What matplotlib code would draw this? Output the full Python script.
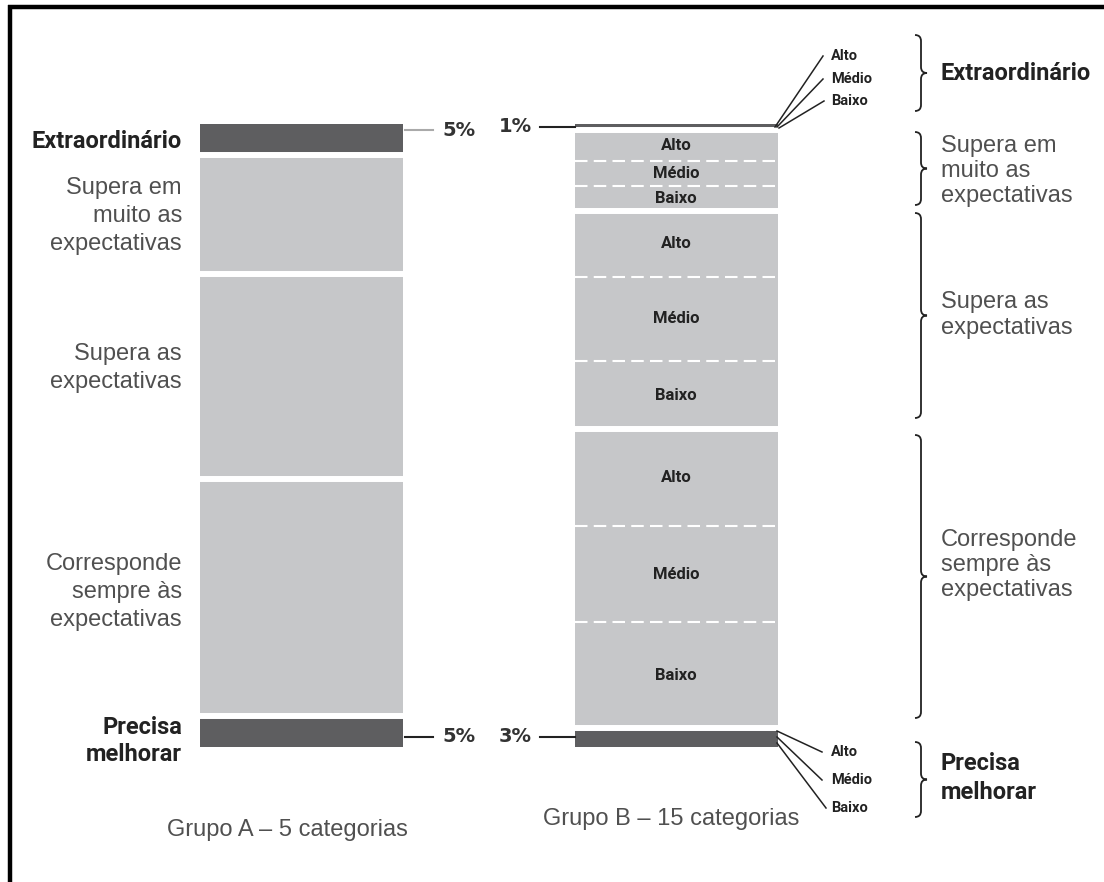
import numpy as np
import matplotlib
matplotlib.use('Agg')
import matplotlib.pyplot as plt
from matplotlib.path import Path
from matplotlib.patches import PathPatch
from matplotlib import font_manager

# categories and shares (%)
categories = ['Extraordinário', 'Supera em\nmuito as\nexpectativas', 'Supera as\nexpectativas',
              'Corresponde\nsempre às\nexpectativas', 'Precisa\nmelhorar']
group_a = [5, 19, 33, 38, 5]
group_b = [1, 13, 35, 48, 3]
# group B: split of the three middle categories into Alto / Médio / Baixo
levels = ['Alto', 'Médio', 'Baixo']
b_sub_supera_muito = [5, 4, 4]
b_sub_supera = [10.5, 13.5, 11]
b_sub_corresponde = [15.5, 15.5, 17]
group_names = ['Grupo A – 5 categorias', 'Grupo B – 15 categorias']

# fonts: condensed bold face if it exists
names = {f.name for f in font_manager.fontManager.ttflist}
if 'Liberation Sans Narrow' in names:
    NARROW, big, mid, small = 'Liberation Sans Narrow', 19, 13.5, 12
else:
    NARROW, big, mid, small = 'Roboto', 17, 12, 10.5
LIGHT = 'Liberation Sans'
dark, light = '#5e5e60', '#c6c7c9'
txt, txt_light = '#222222', '#505050'

W, H = 1104, 882
TOP, BOT = 124, 747
fig = plt.figure(figsize=(W / 100, H / 100), dpi=100)
fig.patch.set_facecolor('white')

# bars axis: y in percent, 0 at the top
ax = fig.add_axes([0, (H - BOT) / H, 1, (BOT - TOP) / H])
ax.set_xlim(0, W)
ax.set_ylim(100, 0)
ax.axis('off')

# overlay in pixel units for the annotations
ov = fig.add_axes([0, 0, 1, 1])
ov.set_xlim(0, W)
ov.set_ylim(H, 0)
ov.axis('off')

xa, xb, bw = 301.5, 676, 203
colors = [dark, light, light, light, dark]

for x, vals in [(xa, group_a), (xb, group_b)]:
    bottoms = np.concatenate([[0], np.cumsum(vals)[:-1]])
    ax.bar([x] * len(vals), vals, bottom=bottoms, width=bw, color=colors, linewidth=0)
    ax.hlines(np.cumsum(vals)[:-1], x - bw / 2, x + bw / 2, colors='white', linewidth=4.3)

# Alto / Médio / Baixo inside group B
starts_b = np.concatenate([[0], np.cumsum(group_b)[:-1]])
for i, sub in [(1, b_sub_supera_muito), (2, b_sub_supera), (3, b_sub_corresponde)]:
    edges = starts_b[i] + np.concatenate([[0], np.cumsum(sub)])
    ax.hlines(edges[1:-1], xb - bw / 2, xb + bw / 2, colors='white',
              linewidth=1.5, linestyles=(0, (6, 3)))
    for lab, y0, y1 in zip(levels, edges[:-1], edges[1:]):
        ax.text(xb, (y0 + y1) / 2, lab, ha='center', va='center', fontsize=mid,
                fontweight='bold', family=NARROW, color=txt)

# left labels of group A
left_y = [141, 216, 368, 592, 741]
for i, (lab, y) in enumerate(zip(categories, left_y)):
    bold = i in (0, 4)
    ov.text(182, y, lab, ha='right', va='center', linespacing=1.2 if bold else 1.35,
            fontsize=big if bold else 17, fontweight='bold' if bold else 'normal',
            family=NARROW if bold else LIGHT, color=txt if bold else txt_light)

# right labels with braces
right_y = [73, 171, 315, 565, 778]
braces = [(35, 111), (132, 205), (213, 418), (435, 718), (742, 817)]


def brace(x, y0, y1, w=6):
    ym = (y0 + y1) / 2
    verts = [(x - w, y0), (x, y0), (x, y0 + w), (x, ym - w), (x, ym), (x + w, ym),
             (x, ym), (x, ym + w), (x, y1 - w), (x, y1), (x - w, y1)]
    codes = [Path.MOVETO, Path.CURVE3, Path.CURVE3, Path.LINETO, Path.CURVE3, Path.CURVE3,
             Path.CURVE3, Path.CURVE3, Path.LINETO, Path.CURVE3, Path.CURVE3]
    ov.add_patch(PathPatch(Path(verts, codes), fill=False, lw=1.3, edgecolor=txt))


for i, (lab, y, (y0, y1)) in enumerate(zip(categories, right_y, braces)):
    brace(921, y0, y1)
    bold = i in (0, 4)
    ov.text(941, y, lab, ha='left', va='center', linespacing=1.3 if bold else 1.2,
            fontsize=big if bold else 17, fontweight='bold' if bold else 'normal',
            family=NARROW if bold else LIGHT, color=txt if bold else txt_light)

# percentage call-outs
ov.plot([405, 433], [130, 130], color='#aaaaaa', lw=1.5)
ov.plot([405, 433], [737, 737], color=txt, lw=1.5)
ov.plot([540, 575], [127, 127], color=txt, lw=1.5)
ov.plot([540, 575], [737, 737], color=txt, lw=1.5)
for x, y, v in [(459, 130, group_a[0]), (459, 737, group_a[-1]),
                (515, 127, group_b[0]), (515, 737, group_b[-1])]:
    ov.text(x, y, f'{v}%', ha='center', va='center', fontsize=14,
            fontweight='bold', color='#333333')

# fanned Alto / Médio / Baixo for the thin segments of group B
for (sx, sy), (ex, ey), lab in zip([(775, 127), (777, 127), (779, 128)],
                                   [(823, 56), (823, 79), (824, 101)], levels):
    ov.plot([sx, ex], [sy, ey], color=txt, lw=1.1)
    ov.text(831, ey, lab, ha='left', va='center', fontsize=small,
            fontweight='bold', family=NARROW, color=txt)
for (sx, sy), (ex, ey), lab in zip([(777, 731), (777, 737), (777, 743)],
                                   [(822, 752), (822, 780), (826, 808)], levels):
    ov.plot([sx, ex], [sy, ey], color=txt, lw=1.1)
    ov.text(831, ey, lab, ha='left', va='center', fontsize=small,
            fontweight='bold', family=NARROW, color=txt)

# group captions
ov.text(287, 830, group_names[0], ha='center', va='center', fontsize=17,
        family=LIGHT, color=txt_light)
ov.text(671, 819, group_names[1], ha='center', va='center', fontsize=17,
        family=LIGHT, color=txt_light)

# frame lines (top and left)
ov.plot([8, W], [7, 7], color='black', lw=3.2, solid_capstyle='butt')
ov.plot([10, 10], [5, H], color='black', lw=3.2, solid_capstyle='butt')

fig.savefig('out.png', dpi=100)
